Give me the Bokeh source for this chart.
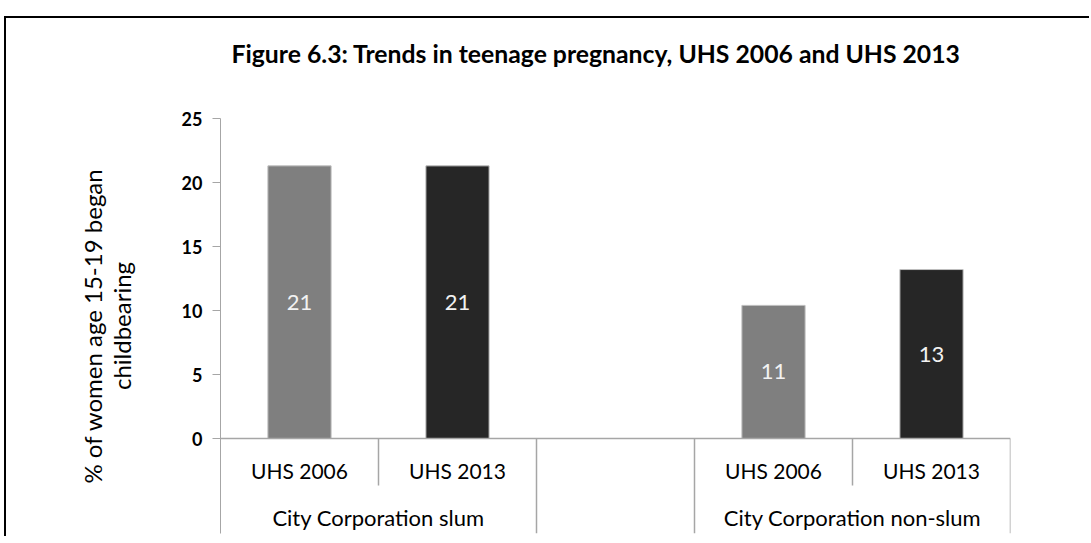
from bokeh.plotting import figure
from bokeh.models import FactorRange, Range1d, FixedTicker, Span, ColumnDataSource, Title
from bokeh.core.properties import value
from bokeh.embed import file_html
from bokeh.resources import INLINE

# ---- data ----
title_text = "Figure 6.3: Trends in teenage pregnancy, UHS 2006 and UHS 2013"
groups = ["City Corporation slum", "City Corporation non-slum"]
surveys = ["UHS 2006", "UHS 2013"]
slum_values = [21.3, 21.3]
nonslum_values = [10.4, 13.2]
slum_labels = ["21", "21"]
nonslum_labels = ["11", "13"]
bar_colors = ["#7f7f7f", "#262626"]
y_ticks = [0, 5, 10, 15, 20, 25]

FONT = "Lato"
GAP = " "

def fac(g, s):
    return g + " | " + s

factors = [fac(groups[0], s) for s in surveys] + [GAP] + [fac(groups[1], s) for s in surveys]

xs, tops, labs, cols = [], [], [], []
for g, vals, lbls in [(groups[0], slum_values, slum_labels), (groups[1], nonslum_values, nonslum_labels)]:
    for i, s in enumerate(surveys):
        xs.append(fac(g, s))
        tops.append(vals[i])
        labs.append(lbls[i])
        cols.append(bar_colors[i])
src = ColumnDataSource(dict(x=xs, top=tops, mid=[t / 2 for t in tops], lab=labs, color=cols))

W, H = 1085, 520
Y0, Y1 = -7.42, 25
FRAME_H = 415
PX_PER_UNIT = FRAME_H / (Y1 - Y0)

p = figure(width=W, height=H, output_backend="svg", toolbar_location=None, title=None,
           x_range=FactorRange(factors=factors, range_padding=0, factor_padding=0),
           y_range=Range1d(Y0, Y1),
           min_border_left=214, min_border_right=W - 1004, min_border_top=100, min_border_bottom=5)
p.styles = {"position": "relative", "top": "16px", "left": "4px",
            "border-top": "2px solid #000", "border-left": "2px solid #000"}
p.outline_line_color = None
p.xgrid.visible = False
p.ygrid.visible = False
p.xaxis.visible = False

# title: a blank spacer next to the frame pushes the real title upward
p.add_layout(Title(text=" ", text_font=FONT, text_font_size="38px", standoff=0), "above")
p.add_layout(Title(text=title_text, align="left", offset=11, standoff=6,
                   text_font=FONT, text_font_style="bold", text_font_size="24.75px",
                   text_color="#000000"), "above")

ax = p.yaxis[0]
ax.ticker = FixedTicker(ticks=y_ticks)
ax.axis_line_color = "#a6a6a6"
ax.major_tick_line_color = "#a6a6a6"
ax.major_tick_in = 0
ax.major_tick_out = 8
ax.minor_tick_line_color = None
ax.major_label_text_font = FONT
ax.major_label_text_font_style = "bold"
ax.major_label_text_font_size = "18px"
ax.major_label_text_color = "#000000"
ax.major_label_standoff = 10
ax.axis_label = "% of women age 15-19 began\nchildbearing"
ax.axis_label_text_font = FONT
ax.axis_label_text_font_style = "normal"
ax.axis_label_text_font_size = "24px"
ax.axis_label_text_line_height = 1.0
ax.axis_label_text_color = "#000000"
ax.axis_label_standoff = 43

# x axis baseline
p.add_layout(Span(location=0, dimension="width", line_color="#a6a6a6", line_width=1.5))

# bars
p.vbar(x="x", top="top", bottom=0, width=0.4, source=src, fill_color="color",
       line_color="#bfbfbf", line_width=1)
p.text(x="x", y="mid", text="lab", source=src, text_align="center", text_baseline="middle",
       text_color="#f2f2f2", text_font=value(FONT), text_font_size="22px")

# category separators (Excel-style multi-level axis)
short_sep = -47 / PX_PER_UNIT
sep_x0, sep_y1 = [], []
for g in groups:
    sep_x0.append((fac(g, surveys[1]), -0.5))
    sep_y1.append(short_sep)
for f in [fac(groups[0], surveys[1]), GAP, fac(groups[1], surveys[1])]:
    sep_x0.append((f, 0.5))
    sep_y1.append(Y0)
p.segment(x0=sep_x0, y0=[0] * len(sep_x0), x1=sep_x0, y1=sep_y1,
          line_color="#a6a6a6", line_width=1.5)

# sub-category labels
sub_x = [fac(g, s) for g in groups for s in surveys]
sub_t = [s for g in groups for s in surveys]
p.text(x=sub_x, y=[-32 / PX_PER_UNIT] * len(sub_x), text=sub_t, text_align="center",
       text_baseline="middle", text_color="#000000", text_font=value(FONT), text_font_size="21px")
# group labels
grp_x = [(fac(g, surveys[0]), 0.5) for g in groups]
p.text(x=grp_x, y=[-79 / PX_PER_UNIT] * len(grp_x), text=groups, text_align="center",
       text_baseline="middle", text_color="#000000", text_font=value(FONT), text_font_size="22px")

open("out.html", "w").write(file_html(p, INLINE))
